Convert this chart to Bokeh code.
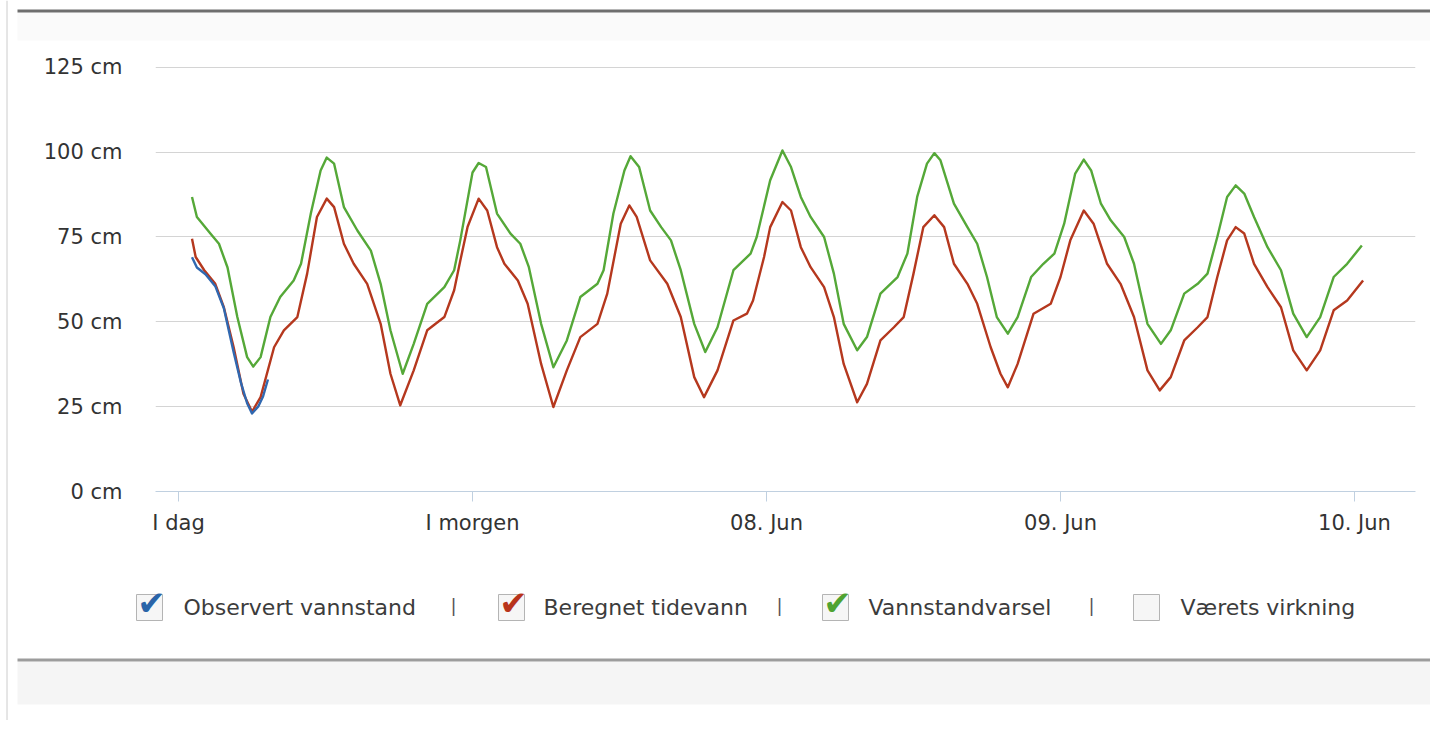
from bokeh.plotting import figure
from bokeh.models import Range1d, FixedTicker
from bokeh.layouts import row, column
from bokeh.core.properties import value
from bokeh.embed import file_html
from bokeh.resources import INLINE

# ---- axes ----
x_ticks = [0, 24, 48, 72, 96]
x_tick_labels = ["I dag", "I morgen", "08. Jun", "09. Jun", "10. Jun"]
y_ticks = [0, 25, 50, 75, 100, 125]
y_tick_labels = ["0 cm", "25 cm", "50 cm", "75 cm", "100 cm", "125 cm"]

# ---- series (hours since start of "I dag", cm) ----
obs_t = [1.1, 1.5, 2.2, 3.0, 3.7, 4.5, 5.1, 5.6, 6.0, 6.5, 6.9, 7.3]
obs_v = [69, 66, 64, 60.5, 54, 41, 32, 26, 23, 25, 28, 33]

tide_t = [1.1, 1.4, 2.1, 3.0, 3.7, 4.5, 5.3, 6.0, 6.7, 7.8, 8.6, 9.7, 10.5, 11.3, 12.1, 12.7,
          13.5, 14.3, 15.4, 16.5, 17.3, 18.1, 19.2, 20.3, 21.7, 22.5, 23.0, 23.6, 24.5, 25.2,
          26.0, 26.6, 27.7, 28.5, 29.6, 30.6, 31.7, 32.8, 34.2, 35.0, 36.1, 36.8, 37.4, 38.5,
          39.9, 41.0, 42.1, 42.9, 44.0, 45.3, 46.4, 46.9, 47.8, 48.3, 49.3, 50.0, 50.8, 51.6,
          52.7, 53.5, 54.3, 55.4, 56.2, 57.3, 58.4, 59.2, 60.0, 60.8, 61.7, 62.5, 63.3, 64.4,
          65.2, 66.3, 67.1, 67.7, 68.5, 69.8, 71.2, 72.0, 72.8, 73.9, 74.7, 75.8, 76.9, 78.0,
          79.1, 80.1, 81.0, 82.1, 83.2, 84.0, 84.8, 85.6, 86.3, 87.0, 87.8, 88.9, 90.0, 91.0,
          92.1, 93.2, 94.3, 95.4, 96.7]
tide_v = [74.5, 69.1, 65.2, 61.2, 54.3, 42.5, 28.8, 23.5, 27.8, 42.5, 47.5, 51.4, 64.2, 80.9, 86.3, 83.8,
          73.0, 67.1, 61.2, 49.4, 34.7, 25.4, 35.7, 47.5, 51.4, 59.3, 68.0, 78.0, 86.3, 82.8,
          72.0, 67.1, 62.2, 55.3, 37.6, 24.9, 35.7, 45.5, 49.4, 58.3, 78.9, 84.3, 80.9, 68.1,
          61.2, 51.4, 33.7, 27.8, 35.7, 50.4, 52.4, 56.3, 69.1, 77.9, 85.3, 82.8, 72.0, 66.1,
          60.2, 51.4, 37.6, 26.3, 31.7, 44.5, 48.4, 51.4, 64.2, 77.9, 81.4, 77.9, 67.1, 61.2,
          55.3, 42.5, 34.7, 30.7, 37.6, 52.4, 55.3, 63.2, 74.0, 82.8, 78.9, 67.1, 61.2, 51.4,
          35.7, 29.8, 33.7, 44.5, 48.4, 51.4, 63.2, 74.0, 77.9, 76.0, 67.1, 60.2, 54.3, 41.6,
          35.7, 41.6, 53.4, 56.3, 62.2]

fc_t = [1.1, 1.5, 2.6, 3.3, 4.0, 4.8, 5.6, 6.1, 6.7, 7.5, 8.3, 9.4, 10.0, 10.8, 11.6, 12.1,
        12.7, 13.5, 14.6, 15.7, 16.5, 17.3, 18.3, 19.2, 20.3, 21.7, 22.5, 23.0, 23.6, 24.0,
        24.5, 25.1, 26.0, 27.1, 27.9, 28.6, 29.6, 30.6, 31.7, 32.8, 34.2, 34.7, 35.5, 36.4,
        36.9, 37.6, 38.5, 39.4, 40.2, 41.0, 42.1, 43.0, 44.0, 45.3, 46.7, 47.2, 48.3, 49.3,
        50.0, 50.8, 51.6, 52.7, 53.5, 54.3, 55.4, 56.2, 57.3, 58.7, 59.5, 60.3, 61.1, 61.7,
        62.2, 63.3, 64.4, 65.2, 66.0, 66.8, 67.7, 68.5, 69.6, 70.6, 71.5, 72.3, 73.2, 73.9,
        74.5, 75.3, 76.1, 77.2, 78.0, 79.1, 80.2, 81.0, 82.1, 83.2, 84.0, 84.8, 85.6, 86.3,
        87.0, 87.8, 88.9, 90.0, 91.0, 92.1, 93.2, 94.3, 95.4, 96.6]
fc_v = [86.8, 80.9, 76.0, 73.0, 66.0, 51.4, 39.6, 36.8, 39.6, 51.4, 57.3, 62.2, 67.1, 81.9, 94.6, 98.4,
        96.6, 83.8, 76.9, 71.0, 61.2, 47.5, 34.7, 43.5, 55.3, 60.2, 65.2, 74.0, 86.0, 94.0,
        96.8, 95.6, 81.9, 76.0, 73.0, 66.1, 49.4, 36.6, 44.5, 57.3, 61.2, 65.2, 81.9, 94.6,
        98.8, 95.6, 82.8, 77.9, 74.0, 65.2, 49.4, 41.1, 48.4, 65.2, 70.1, 75.0, 91.7, 100.5,
        95.6, 86.8, 80.9, 75.0, 64.2, 49.4, 41.6, 45.5, 58.3, 63.2, 70.1, 86.8, 96.6, 99.7,
        97.6, 84.8, 77.9, 73.0, 63.2, 51.4, 46.5, 51.4, 63.2, 67.1, 70.1, 78.9, 93.7, 97.8,
        94.6, 84.8, 79.9, 75.0, 67.1, 49.4, 43.5, 47.5, 58.3, 61.2, 64.2, 75.0, 86.8, 90.2,
        87.8, 80.9, 72.0, 65.2, 52.4, 45.5, 51.4, 63.2, 67.1, 72.5]

legend_names = ["Observert vannstand", "Beregnet tidevann", "Vannstandvarsel", "Værets virkning"]
legend_colors = ["#2a64a8", "#b8341b", "#4fa332", None]

BLUE, RED, GREEN = "#3068b0", "#b5381e", "#55a838"
FONT = "DejaVu Sans"

STRIP_W = 12
PAGE_W = 1430
W = PAGE_W - STRIP_W


def deco_fig(w, h, x0, x1, y_top, y_bottom):
    f = figure(width=w, height=h, x_range=Range1d(x0, x1), y_range=Range1d(y_bottom, y_top),
               output_backend="svg", toolbar_location=None,
               x_axis_type=None, y_axis_type=None, min_border=0, frame_align=False)
    f.outline_line_color = None
    f.background_fill_color = "white"
    f.border_fill_color = "white"
    return f


# ---- left border strip ----
strip = deco_fig(STRIP_W, 720, 0, STRIP_W, 0, 720)
strip.segment(x0=[6.5], y0=[0], x1=[6.5], y1=[720], line_color="#cccccc", line_width=1)

# ---- header (page y 0..50) ----
head = deco_fig(W, 50, STRIP_W, PAGE_W, 0, 50)
head.quad(left=[17], right=[PAGE_W], top=[12], bottom=[40], fill_color="#fafafa", line_color=None)
head.quad(left=[17], right=[PAGE_W], top=[9], bottom=[12], fill_color="#6e6e6e", line_color=None)

# ---- main chart (page y 50..540), frame page y 60..491, x 155..1415 ----
p = figure(width=W, height=490,
           x_range=Range1d(-1.88, 100.98), y_range=Range1d(0, 127),
           output_backend="svg", toolbar_location=None, frame_align=False,
           min_border_left=155 - STRIP_W, min_border_right=PAGE_W - 1415,
           min_border_top=10, min_border_bottom=49)
p.outline_line_color = None
p.background_fill_color = "white"
p.border_fill_color = "white"

p.xgrid.grid_line_color = None
p.ygrid.grid_line_color = "#d4d4d4"
p.ygrid.grid_line_width = 1

p.yaxis.ticker = FixedTicker(ticks=y_ticks)
p.yaxis.major_label_overrides = {t: l for t, l in zip(y_ticks, y_tick_labels)}
p.yaxis.axis_line_color = None
p.yaxis.major_tick_line_color = None
p.yaxis.minor_tick_line_color = None
p.yaxis.major_tick_out = 0
p.yaxis.major_label_standoff = 33
p.yaxis.major_label_text_font = FONT
p.yaxis.major_label_text_font_size = "21px"
p.yaxis.major_label_text_color = "#333333"

p.xaxis.ticker = FixedTicker(ticks=x_ticks)
p.xaxis.major_label_overrides = {t: l for t, l in zip(x_ticks, x_tick_labels)}
p.xaxis.axis_line_color = "#c0d0e0"
p.xaxis.axis_line_width = 1
p.xaxis.major_tick_line_color = "#c0d0e0"
p.xaxis.major_tick_out = 10
p.xaxis.major_tick_in = 0
p.xaxis.minor_tick_line_color = None
p.xaxis.major_label_standoff = 9
p.xaxis.major_label_text_font = FONT
p.xaxis.major_label_text_font_size = "21px"
p.xaxis.major_label_text_color = "#333333"

p.line(fc_t, fc_v, line_color=GREEN, line_width=2.4, line_join="round")
p.line(tide_t, tide_v, line_color=RED, line_width=2.4, line_join="round")
p.line(obs_t, obs_v, line_color=BLUE, line_width=2.4, line_join="round")

# ---- legend and footer (page y 540..720) ----
leg = deco_fig(W, 180, STRIP_W, PAGE_W, 540, 720)
leg.quad(left=[17], right=[PAGE_W], top=[661], bottom=[704], fill_color="#f5f5f5", line_color=None)
leg.quad(left=[17], right=[PAGE_W], top=[658], bottom=[661], fill_color="#9c9c9c", line_color=None)

box_x = [136, 498, 822, 1133]
text_x = [183, 543, 868, 1180]
sep_x = [453, 779, 1091]
LEG_Y = 607

leg.quad(left=[b for b in box_x], right=[b + 26 for b in box_x],
         top=[LEG_Y - 13] * 4, bottom=[LEG_Y + 13] * 4,
         fill_color="#f6f6f6", line_color="#b4b4b4", line_width=1)
for bx, tx, name, col in zip(box_x, text_x, legend_names, legend_colors):
    if col:
        leg.text(x=[bx + 15], y=[LEG_Y - 5], text=["\u2714"], text_color=col,
                 text_font=value(FONT), text_font_size="34px",
                 text_align="center", text_baseline="middle")
    leg.text(x=[tx], y=[LEG_Y], text=[name], text_color="#3c3c3c",
             text_font=value(FONT), text_font_size="22px",
             text_align="left", text_baseline="middle")

leg.text(x=sep_x, y=[LEG_Y - 2] * 3, text=["|"] * 3, text_color="#555555",
         text_font=value(FONT), text_font_size="18px",
         text_align="center", text_baseline="middle")

layout = row(strip, column(head, p, leg))

open("out.html", "w").write(file_html(layout, INLINE))
